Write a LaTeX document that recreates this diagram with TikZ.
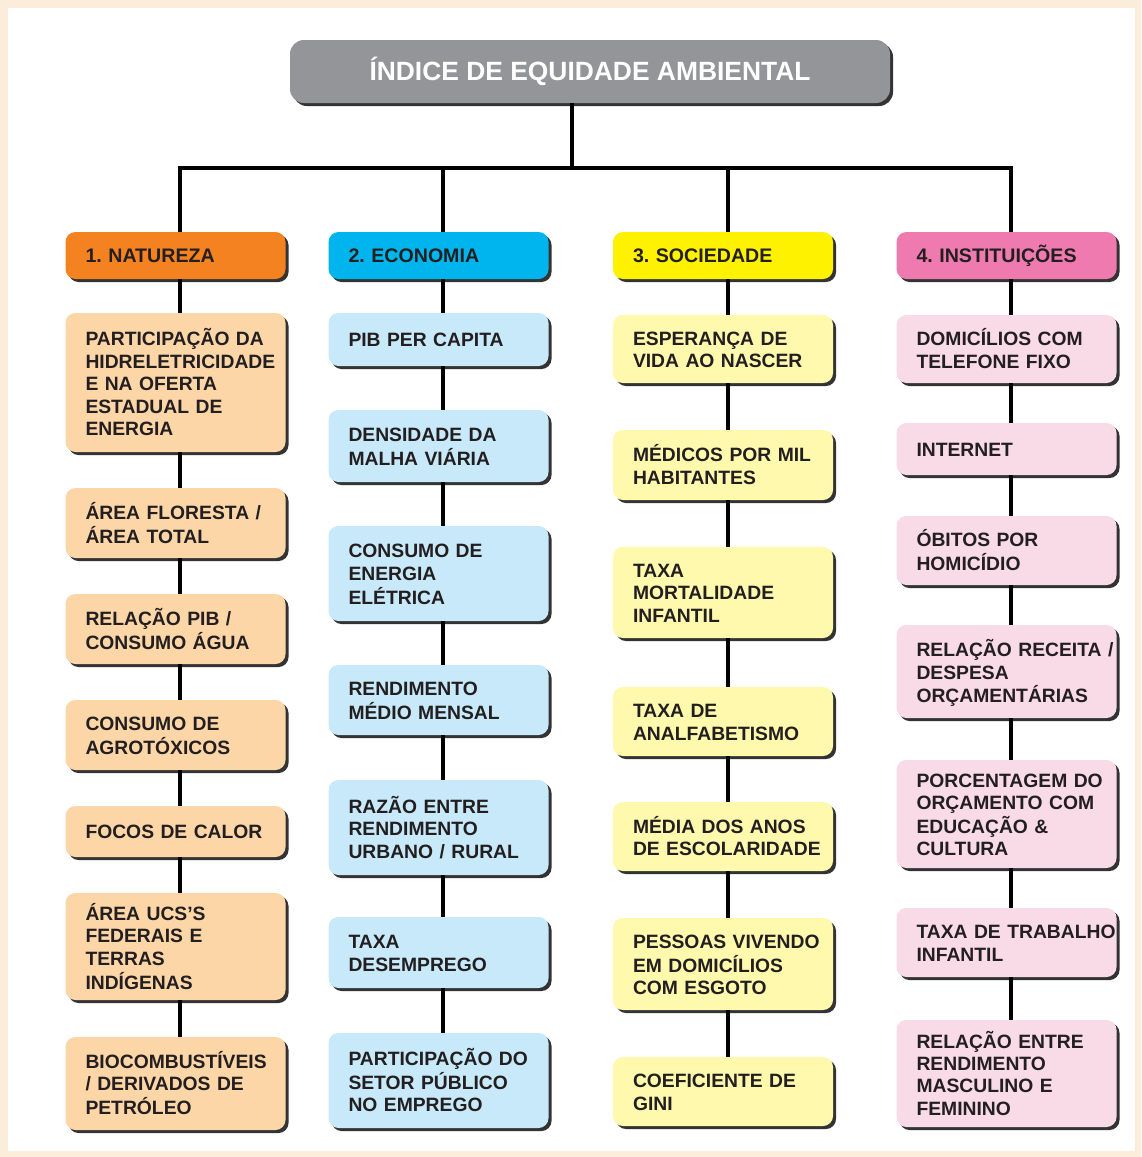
\documentclass[tikz,border=0pt]{standalone}
\usepackage{fontspec}
\setmainfont{Liberation Sans}
\usetikzlibrary{shadows}
\definecolor{bgframe}{HTML}{FCEDDA}
\definecolor{titlegray}{HTML}{939598}
\definecolor{txt}{HTML}{231F20}
\definecolor{natH}{HTML}{F58220}
\definecolor{ecoH}{HTML}{00B5EE}
\definecolor{socH}{HTML}{FFF200}
\definecolor{insH}{HTML}{EF7AAF}
\definecolor{natL}{HTML}{FDD6A8}
\definecolor{ecoL}{HTML}{C7E9F9}
\definecolor{socL}{HTML}{FFF9AE}
\definecolor{insL}{HTML}{F9DBE8}
\tikzset{
  base/.style={rounded corners=5pt, inner ysep=0pt,
    drop shadow={shadow xshift=1.5pt,shadow yshift=-1.5pt,fill=black!80,opacity=1}},
  item/.style={base, align=left, text width=90pt, inner xsep=10pt,
    font=\frenchspacing\bfseries\fontsize{9.65pt}{11.2pt}\selectfont, text=txt},
  head/.style={item, minimum height=23.5pt, font=\frenchspacing\bfseries\fontsize{9.8pt}{11.2pt}\selectfont},
  nat/.style={item, fill=natL}, eco/.style={item, fill=ecoL},
  soc/.style={item, fill=socL}, ins/.style={item, fill=insL},
  link/.style={line width=2pt, black},
}
\newcommand\eqbox[6]{\node[#1, minimum height={(#5-#4)*0.5pt}] (#2) at (#3,{(#4+#5)/2})
  {\raisebox{-1.5pt}[\height][\depth]{\begin{tabular}{@{}l@{}}#6\end{tabular}}};}
\begin{document}
\begin{tikzpicture}[x=0.5pt,y=-0.5pt]
\useasboundingbox (0,0) rectangle (1141,1157);
\fill[bgframe] (0,0) rectangle (1141,1157);
\fill[white] (8,8) rectangle (1135,1151);
% title
\node[base, rounded corners=7pt, fill=titlegray, text=white, minimum width=300pt, minimum height=31.5pt,
  font=\bfseries\fontsize{13.2pt}{15pt}\selectfont] (title) at (590,71.5) {ÍNDICE DE EQUIDADE AMBIENTAL};
% headers
\node[head, fill=natH] (h1) at (175.5,255.5) {1. NATUREZA};
\node[head, fill=ecoH] (h2) at (438.5,255.5) {2. ECONOMIA};
\node[head, fill=socH] (h3) at (723,255.5) {3. SOCIEDADE};
\node[head, fill=insH] (h4) at (1006.5,255.5) {4. INSTITUIÇÕES};
% column 1
\eqbox{nat}{n1}{175.5}{313}{452}{PARTICIPAÇÃO DA\\HIDRELETRICIDADE\\E NA OFERTA\\ESTADUAL DE\\ENERGIA}
\eqbox{nat}{n2}{175.5}{488}{558}{ÁREA FLORESTA /\\ÁREA TOTAL}
\eqbox{nat}{n3}{175.5}{594}{664}{RELAÇÃO PIB /\\CONSUMO ÁGUA}
\eqbox{nat}{n4}{175.5}{700}{770}{CONSUMO DE\\AGROTÓXICOS}
\eqbox{nat}{n5}{175.5}{806}{857}{FOCOS DE CALOR}
\eqbox{nat}{n6}{175.5}{893}{1000}{ÁREA UCS'S\\FEDERAIS E\\TERRAS\\INDÍGENAS}
\eqbox{nat}{n7}{175.5}{1037}{1130}{BIOCOMBUSTÍVEIS\\/ DERIVADOS DE\\PETRÓLEO}
% column 2
\eqbox{eco}{e1}{438.5}{313}{366}{PIB PER CAPITA}
\eqbox{eco}{e2}{438.5}{410}{482}{DENSIDADE DA\\MALHA VIÁRIA}
\eqbox{eco}{e3}{438.5}{526}{621}{CONSUMO DE\\ENERGIA\\ELÉTRICA}
\eqbox{eco}{e4}{438.5}{665}{735}{RENDIMENTO\\MÉDIO MENSAL}
\eqbox{eco}{e5}{438.5}{780}{875}{RAZÃO ENTRE\\RENDIMENTO\\URBANO / RURAL}
\eqbox{eco}{e6}{438.5}{917}{988}{TAXA\\DESEMPREGO}
\eqbox{eco}{e7}{438.5}{1033}{1128}{PARTICIPAÇÃO DO\\SETOR PÚBLICO\\NO EMPREGO}
% column 3
\eqbox{soc}{s1}{723}{315}{383}{ESPERANÇA DE\\VIDA AO NASCER}
\eqbox{soc}{s2}{723}{430}{500}{MÉDICOS POR MIL\\HABITANTES}
\eqbox{soc}{s3}{723}{547}{638}{TAXA\\MORTALIDADE\\INFANTIL}
\eqbox{soc}{s4}{723}{687}{756}{TAXA DE\\ANALFABETISMO}
\eqbox{soc}{s5}{723}{802}{871}{MÉDIA DOS ANOS\\DE ESCOLARIDADE}
\eqbox{soc}{s6}{723}{918}{1010}{PESSOAS VIVENDO\\EM DOMICÍLIOS\\COM ESGOTO}
\eqbox{soc}{s7}{723}{1057}{1126}{COEFICIENTE DE\\GINI}
% column 4
\eqbox{ins}{i1}{1006.5}{315}{383}{DOMICÍLIOS COM\\TELEFONE FIXO}
\eqbox{ins}{i2}{1006.5}{423}{475}{INTERNET}
\eqbox{ins}{i3}{1006.5}{516}{585}{ÓBITOS POR\\HOMICÍDIO}
\eqbox{ins}{i4}{1006.5}{625}{718}{RELAÇÃO RECEITA /\\DESPESA\\ORÇAMENTÁRIAS}
\eqbox{ins}{i5}{1006.5}{760}{868}{PORCENTAGEM DO\\ORÇAMENTO COM\\EDUCAÇÃO \&\\CULTURA}
\eqbox{ins}{i6}{1006.5}{908}{977}{TAXA DE TRABALHO\\INFANTIL}
\eqbox{ins}{i7}{1006.5}{1020}{1127}{RELAÇÃO ENTRE\\RENDIMENTO\\MASCULINO E\\FEMININO}
% tree connectors
\coordinate (bus) at (572,168);
\draw[link] ([xshift=-9pt]title.south) -- (bus);
\foreach \h in {h1,h2,h3,h4}{
  \draw[link] ([xshift=2.25pt]\h.north) |- (bus);
}
\foreach \c/\h in {n/h1,e/h2,s/h3,i/h4}{
  \draw[link] ([xshift=2.25pt]\h.south) -- ([xshift=2.25pt]\c1.north);
  \foreach \a/\b in {1/2,2/3,3/4,4/5,5/6,6/7}{
    \draw[link] ([xshift=2.25pt]\c\a.south) -- ([xshift=2.25pt]\c\b.north);
  }
}
\end{tikzpicture}
\end{document}
